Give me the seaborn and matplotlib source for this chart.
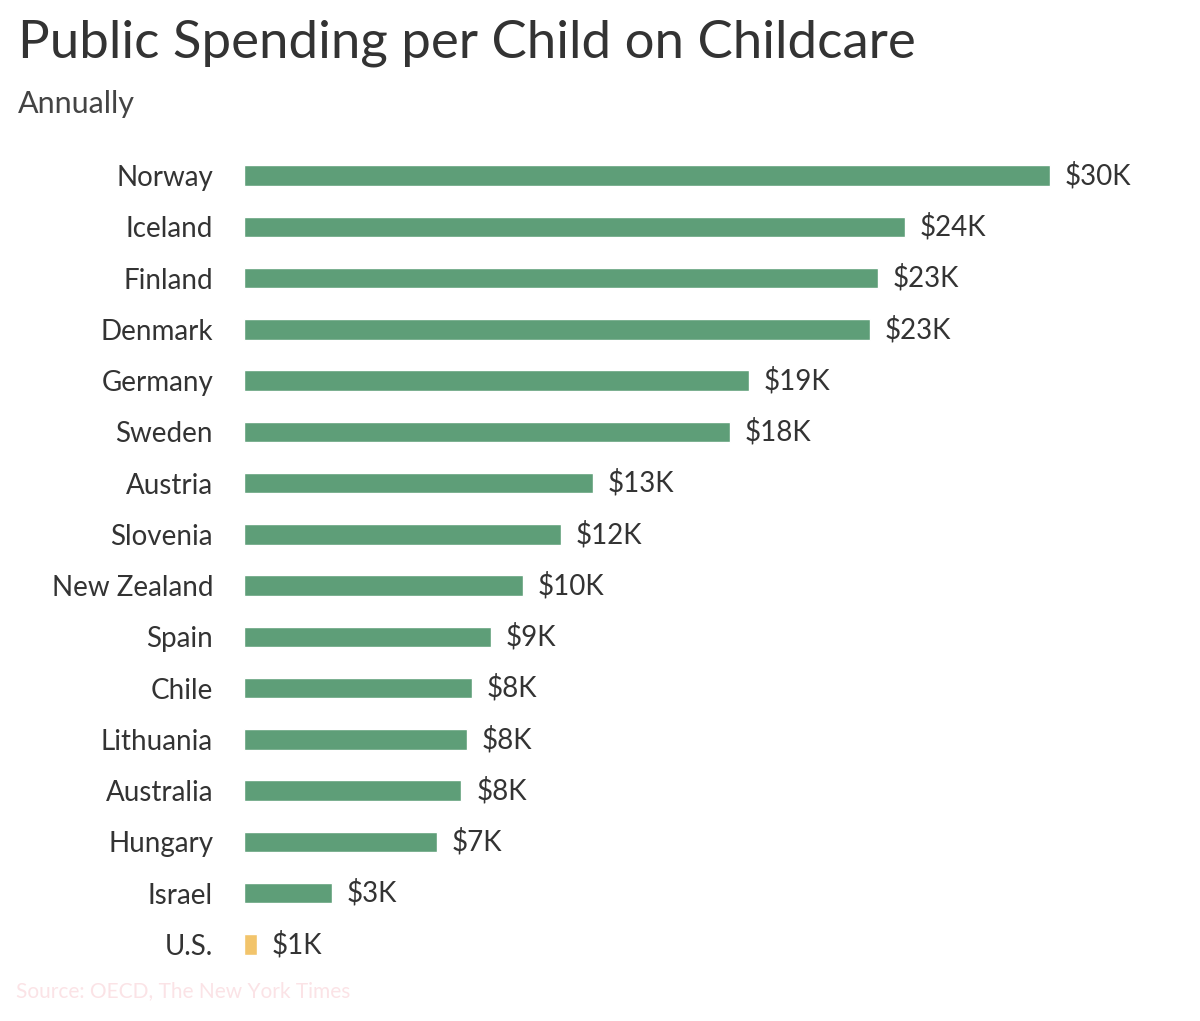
import matplotlib
matplotlib.use('Agg')
import matplotlib.pyplot as plt
import seaborn as sns
import pandas as pd

countries = ['Norway', 'Iceland', 'Finland', 'Denmark', 'Germany', 'Sweden', 'Austria',
             'Slovenia', 'New Zealand', 'Spain', 'Chile', 'Lithuania', 'Australia',
             'Hungary', 'Israel', 'U.S.']
spending_k = [30.0, 24.6, 23.6, 23.3, 18.8, 18.1, 13.0, 11.8, 10.4, 9.2, 8.5, 8.3, 8.1, 7.2, 3.3, 0.5]
value_labels = ['$30K', '$24K', '$23K', '$23K', '$19K', '$18K', '$13K', '$12K', '$10K',
                '$9K', '$8K', '$8K', '$8K', '$7K', '$3K', '$1K']

sns.set_style('white')
plt.rcParams['font.family'] = ['Lato', 'DejaVu Sans']

df = pd.DataFrame({'country': countries, 'value': spending_k})
green = '#5e9e78'
yellow = '#f2c46b'
palette = [yellow if c == 'U.S.' else green for c in countries]

fig = plt.figure(figsize=(12, 10.21), dpi=100)
ax = fig.add_axes([0.203, 0.050, 0.755, 0.803])
sns.barplot(data=df, y='country', x='value', hue='country', palette=palette,
            legend=False, width=0.4, ax=ax, saturation=1)
ax.set_xlim(0, 33.7)
ax.set_xlabel('')
ax.set_ylabel('')
ax.set_xticks([])
ax.tick_params(axis='y', length=0, labelsize=20, labelcolor='#333333', pad=22)
sns.despine(ax=ax, left=True, bottom=True)

for i, (v, lab) in enumerate(zip(spending_k, value_labels)):
    ax.text(v + 0.55, i, lab, va='center', ha='left', fontsize=20, color='#333333')

fig.text(0.015, 0.958, 'Public Spending per Child on Childcare', fontsize=38,
         color='#333333', va='center')
fig.text(0.015, 0.898, 'Annually', fontsize=22, color='#444444', va='center')
fig.text(0.013, 0.029, 'Source: OECD, The New York Times', fontsize=15,
         color='#fbe3e6', va='center')

fig.savefig('out.png', dpi=100)
